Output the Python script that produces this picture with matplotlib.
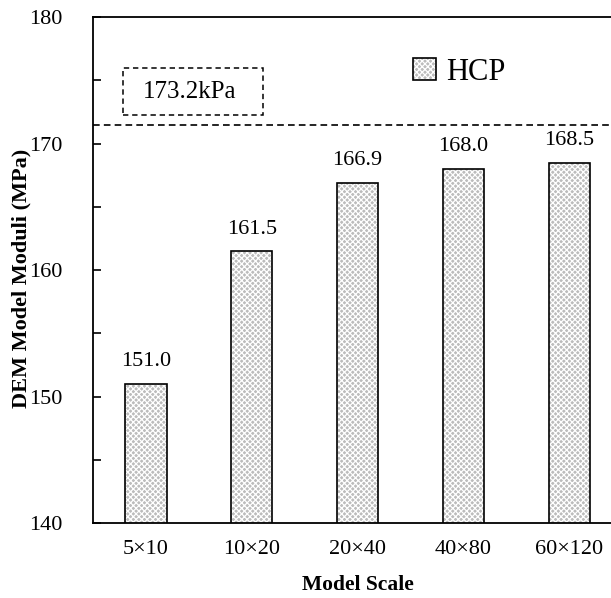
import matplotlib
matplotlib.use("Agg")
import matplotlib.pyplot as plt
from matplotlib.patches import Patch, Rectangle
from matplotlib.legend_handler import HandlerTuple
from matplotlib.ticker import MultipleLocator

# data
scales = ["5×10", "10×20", "20×40", "40×80", "60×120"]
moduli = [151.0, 161.5, 166.9, 168.0, 168.5]
ref_level = 171.5
ref_text = "173.2kPa"

plt.rcParams["font.family"] = ["Liberation Serif", "DejaVu Serif"]
plt.rcParams["hatch.linewidth"] = 0.9

fig = plt.figure(figsize=(6.11, 5.98), dpi=100)
ax = fig.add_axes([0.1522, 0.1254, 0.866, 0.846])

x = list(range(len(scales)))
fill = "#bcbcbc"
# hatched fill (white crosshatch), then black outline on top
ax.bar(x, moduli, width=0.39, color=fill, hatch="xxxxxx", edgecolor="white", linewidth=0, zorder=2)
ax.bar(x, moduli, width=0.39, color="none", edgecolor="black", linewidth=1.2, zorder=3)

for xi, v in zip(x, moduli):
    ax.annotate(f"{v:.1f}", (xi, v), xytext=(0, 9), textcoords="offset points",
                ha="center", va="bottom", fontsize=16)

ax.axhline(ref_level, color="black", linestyle=(0, (4, 2.5)), linewidth=1.2, zorder=1)

# dashed box with the reference value
ax.add_patch(Rectangle((0.0567, 0.806), 0.264, 0.093, transform=ax.transAxes,
                       fill=False, edgecolor="black", linestyle=(0, (3.5, 2.5)), linewidth=1.1))
ax.text(0.183, 0.852, ref_text, transform=ax.transAxes, ha="center", va="center", fontsize=18)

h1 = Patch(facecolor=fill, hatch="xxxxxx", edgecolor="white", linewidth=0)
h2 = Patch(facecolor="none", edgecolor="black", linewidth=1.2)
ax.legend([(h1, h2)], ["HCP"], handler_map={tuple: HandlerTuple(ndivide=1, pad=0)},
          loc="center left", bbox_to_anchor=(0.604, 0.891), frameon=False,
          fontsize=22, handlelength=0.75, handleheight=0.75, handletextpad=0.35,
          borderpad=0, borderaxespad=0)

ax.set_xlim(-0.5, 4.5)
ax.set_ylim(140, 180)
ax.set_xticks(x)
ax.set_xticklabels(scales)
ax.yaxis.set_major_locator(MultipleLocator(10))
ax.yaxis.set_minor_locator(MultipleLocator(5))
ax.tick_params(axis="x", length=0, pad=12, labelsize=16)
ax.tick_params(axis="y", which="both", direction="in", length=6, width=1.2, pad=22, labelsize=16)

for s in ax.spines.values():
    s.set_linewidth(1.3)

ax.set_xlabel("Model Scale", fontsize=15.5, fontweight="bold", labelpad=12)
ax.set_ylabel("DEM Model Moduli (MPa)", fontsize=16, fontweight="bold")
ax.yaxis.set_label_coords(-0.117, 0.484)

fig.savefig("out.png", dpi=100)
